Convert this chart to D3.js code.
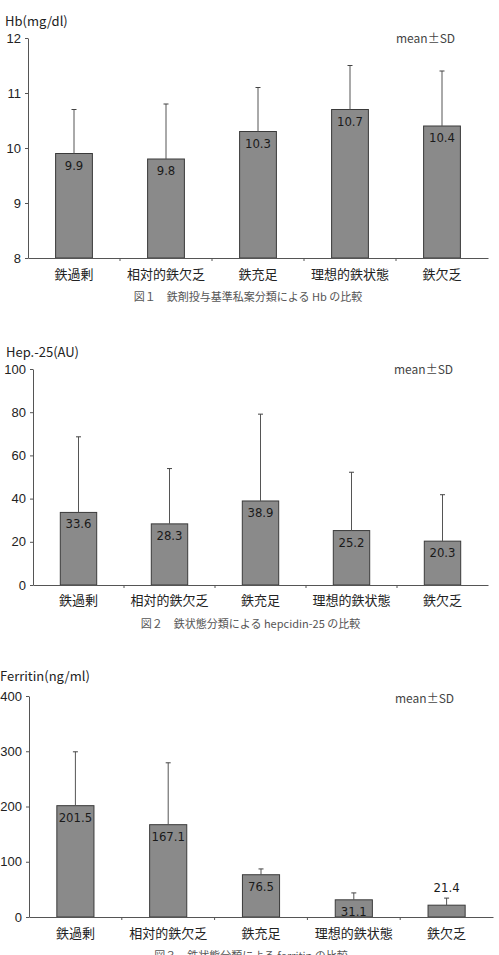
<!DOCTYPE html>
<html>
<head>
<meta charset="utf-8">
<script src="https://cdn.jsdelivr.net/npm/d3@7"></script>
<style>
  html, body { margin: 0; padding: 0; background: #fff; }
  svg { display: block; }
</style>
</head>
<body>
<svg id="chart" width="499" height="955"></svg>
<script>
// Shared categories
const categories = ['鉄過剰', '相対的鉄欠乏', '鉄充足', '理想的鉄状態', '鉄欠乏'];

// Fig.1 Hb
const hbMeans = [9.9, 9.8, 10.3, 10.7, 10.4];
const hbSD = [0.8, 1.0, 0.8, 0.8, 1.0];
const hbTicks = [8, 9, 10, 11, 12];

// Fig.2 hepcidin-25
const hepMeans = [33.6, 28.3, 38.9, 25.2, 20.3];
const hepSD = [35.0, 25.6, 40.2, 27.0, 21.5];
const hepTicks = [0, 20, 40, 60, 80, 100];

// Fig.3 ferritin
const ferMeans = [201.5, 167.1, 76.5, 31.1, 21.4];
const ferSD = [97.5, 112.0, 10.5, 12.5, 12.8];
const ferTicks = [0, 100, 200, 300, 400];

const svg = d3.select('#chart');
const JP = '"Noto Sans CJK JP", "Noto Sans", sans-serif';
const NUM = '"Liberation Sans", "Noto Sans CJK JP", sans-serif';
const COND = '"DejaVu Sans Condensed", "Liberation Sans Narrow", sans-serif';

/**
 * Draw one bar chart with SD whiskers
 */
function drawChart(opt) {
  const { means, sds, ticks, domain, x0, x1, yTop, yBottom, title, titleX, titleY,
          caption, captionY, catY, meanX, meanY, outsideLabel = [] } = opt;

  const g = svg.append('g');

  const x = d3.scaleBand()
    .domain(categories)
    .range([x0, x1])
    .paddingInner(0.6)
    .paddingOuter(0.3);

  const y = d3.scaleLinear()
    .domain(domain)
    .range([yBottom, yTop]);

  // y axis
  const yAxis = g.append('g')
    .attr('transform', `translate(${x0},0)`)
    .call(d3.axisLeft(y).tickValues(ticks).tickFormat(d3.format('d')).tickSize(3).tickSizeOuter(0));
  yAxis.select('.domain').attr('stroke', '#555');
  yAxis.selectAll('.tick line').attr('stroke', '#555');
  yAxis.selectAll('.tick text')
    .attr('x', -7)
    .style('font-family', NUM)
    .style('font-size', '13px')
    .attr('fill', '#222');

  // bars
  g.selectAll('rect.bar')
    .data(means)
    .join('rect')
    .attr('class', 'bar')
    .attr('x', (d, i) => x(categories[i]))
    .attr('width', x.bandwidth())
    .attr('y', d => y(d))
    .attr('height', d => yBottom - y(d))
    .attr('fill', '#8a8a8a')
    .attr('stroke', '#3a3a3a')
    .attr('stroke-width', 1);

  // SD whiskers
  const cx = i => x(categories[i]) + x.bandwidth() / 2;
  g.selectAll('line.sd')
    .data(means)
    .join('line')
    .attr('class', 'sd')
    .attr('x1', (d, i) => cx(i))
    .attr('x2', (d, i) => cx(i))
    .attr('y1', d => y(d))
    .attr('y2', (d, i) => y(d + sds[i]))
    .attr('stroke', '#555')
    .attr('stroke-width', 1);

  g.selectAll('line.cap')
    .data(means)
    .join('line')
    .attr('class', 'cap')
    .attr('x1', (d, i) => cx(i) - 2.5)
    .attr('x2', (d, i) => cx(i) + 2.5)
    .attr('y1', (d, i) => y(d + sds[i]))
    .attr('y2', (d, i) => y(d + sds[i]))
    .attr('stroke', '#444')
    .attr('stroke-width', 1);

  // x axis (drawn after bars so the baseline sits on top)
  const xAxis = g.append('g')
    .attr('transform', `translate(0,${yBottom})`)
    .call(d3.axisBottom(x).tickSize(0).tickSizeOuter(0));
  xAxis.select('.domain').attr('stroke', '#555');
  xAxis.selectAll('.tick text').remove();

  // band separators on the x axis
  g.selectAll('line.sep')
    .data(categories.slice(1))
    .join('line')
    .attr('class', 'sep')
    .attr('x1', (d, i) => x0 + (x1 - x0) * (i + 1) / categories.length)
    .attr('x2', (d, i) => x0 + (x1 - x0) * (i + 1) / categories.length)
    .attr('y1', yBottom)
    .attr('y2', yBottom + 3)
    .attr('stroke', '#555');

  // category labels
  g.selectAll('text.cat')
    .data(categories)
    .join('text')
    .attr('class', 'cat')
    .attr('x', (d, i) => cx(i))
    .attr('y', catY)
    .attr('text-anchor', 'middle')
    .style('font-family', JP)
    .style('font-size', '13px')
    .attr('fill', '#222')
    .text(d => d);

  // value labels
  g.selectAll('text.val')
    .data(means)
    .join('text')
    .attr('class', 'val')
    .attr('x', (d, i) => cx(i))
    .attr('y', (d, i) => outsideLabel.includes(i) ? y(d + sds[i]) - 6 : y(d) + 16)
    .attr('text-anchor', 'middle')
    .style('font-family', COND)
    .style('font-size', '13px')
    .attr('fill', '#1a1a1a')
    .text(d => d.toFixed(1));

  // axis title
  g.append('text')
    .attr('x', titleX)
    .attr('y', titleY)
    .style('font-family', JP)
    .style('font-size', '13px')
    .attr('fill', '#222')
    .text(title);

  // mean±SD note
  g.append('text')
    .attr('x', meanX)
    .attr('y', meanY)
    .style('font-family', JP)
    .style('font-size', '12px')
    .attr('fill', '#444')
    .text('mean±SD');

  // caption
  g.append('text')
    .attr('x', (x0 + x1) / 2 - 10)
    .attr('y', captionY)
    .attr('text-anchor', 'middle')
    .style('font-family', JP)
    .style('font-size', '11px')
    .attr('fill', '#555')
    .text(caption);
}

drawChart({
  means: hbMeans, sds: hbSD, ticks: hbTicks, domain: [8, 12],
  x0: 28, x1: 488, yTop: 38, yBottom: 258,
  title: 'Hb(mg/dl)', titleX: 5, titleY: 26,
  catY: 279, caption: '図１　鉄剤投与基準私案分類による Hb の比較', captionY: 301,
  meanX: 396, meanY: 43
});

drawChart({
  means: hepMeans, sds: hepSD, ticks: hepTicks, domain: [0, 100],
  x0: 33, x1: 488, yTop: 369, yBottom: 585,
  title: 'Hep.-25(AU)', titleX: 6, titleY: 357,
  catY: 605, caption: '図２　鉄状態分類による hepcidin-25 の比較', captionY: 628,
  meanX: 394, meanY: 374
});

drawChart({
  means: ferMeans, sds: ferSD, ticks: ferTicks, domain: [0, 400],
  x0: 29, x1: 493, yTop: 696, yBottom: 917,
  title: 'Ferritin(ng/ml)', titleX: 0, titleY: 681,
  catY: 938, caption: '図３　鉄状態分類による ferritin の比較', captionY: 960,
  meanX: 395, meanY: 703, outsideLabel: [4]
});
</script>
</body>
</html>
